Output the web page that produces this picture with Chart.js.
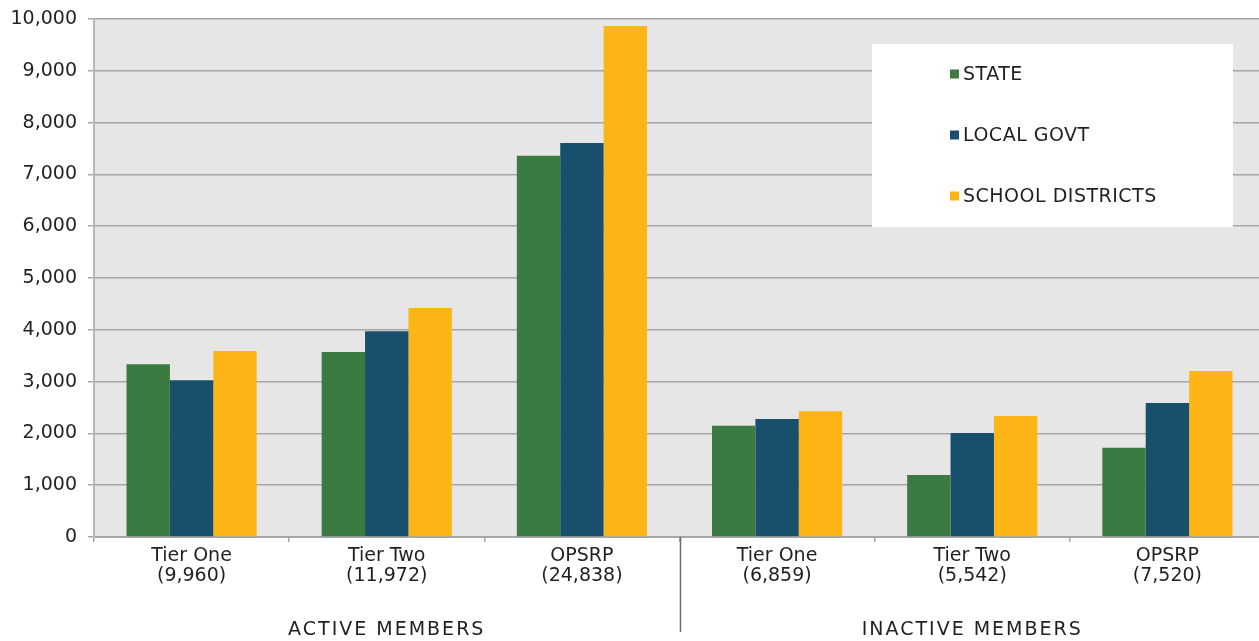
<!DOCTYPE html>
<html>
<head>
<meta charset="utf-8">
<script src="https://cdn.jsdelivr.net/npm/chart.js@4/dist/chart.umd.min.js"></script>
<style>
  html, body { margin: 0; padding: 0; background: #ffffff; overflow: hidden; }
  #wrap { position: relative; width: 1265px; height: 641px; }
</style>
</head>
<body>
<div id="wrap"><canvas id="chart"></canvas></div>
<script>
// Member counts by tier and employer type
const tierNames = ['Tier One', 'Tier Two', 'OPSRP', 'Tier One', 'Tier Two', 'OPSRP'];
const tierTotals = ['(9,960)', '(11,972)', '(24,838)', '(6,859)', '(5,542)', '(7,520)'];
const groupNames = ['ACTIVE MEMBERS', 'INACTIVE MEMBERS'];
const groupSizes = [3, 3];

const seriesNames = ['STATE', 'LOCAL GOVT', 'SCHOOL DISTRICTS'];
const seriesColors = ['#3b7a41', '#184f6c', '#fdb515'];
const stateVals  = [3335, 3570, 7360, 2150, 1195, 1725];
const localVals  = [3025, 3970, 7605, 2280, 2010, 2585];
const schoolVals = [3590, 4420, 9865, 2430, 2335, 3205];

const yTicks = [0, 1000, 2000, 3000, 4000, 5000, 6000, 7000, 8000, 9000, 10000];

const FONT = '"DejaVu Sans", sans-serif';
const TEXT = '#231f20';

const labels = tierNames.map((n, i) => [n, tierTotals[i]]);
const values = [stateVals, localVals, schoolVals];

// Grey plotting area behind the bars
const plotBackground = {
  id: 'plotBackground',
  beforeDraw(chart) {
    const { ctx, chartArea: a } = chart;
    ctx.save();
    ctx.fillStyle = '#e6e6e6';
    ctx.fillRect(a.left, a.top, a.right - a.left, a.bottom - a.top);
    ctx.restore();
  }
};

// Group captions under the tier labels, with a divider between the groups
const groupCaptions = {
  id: 'groupCaptions',
  afterDraw(chart) {
    const { ctx } = chart;
    const x = chart.scales.x;
    const bottom = chart.chartArea.bottom;
    const step = x.getPixelForValue(1) - x.getPixelForValue(0);
    ctx.save();
    let start = 0;
    groupNames.forEach((name, g) => {
      const end = start + groupSizes[g] - 1;
      const left = x.getPixelForValue(start) - step / 2;
      const right = x.getPixelForValue(end) + step / 2;
      ctx.font = '19px ' + FONT;
      ctx.letterSpacing = '2px';
      ctx.fillStyle = TEXT;
      ctx.textAlign = 'center';
      ctx.textBaseline = 'alphabetic';
      ctx.fillText(name, (left + right) / 2, 635);
      if (g > 0) {
        ctx.strokeStyle = '#6b6b6b';
        ctx.lineWidth = 1.5;
        ctx.beginPath();
        ctx.moveTo(Math.round(left) + 0.5, bottom);
        ctx.lineTo(Math.round(left) + 0.5, 632);
        ctx.stroke();
      }
      start = end + 1;
    });
    ctx.restore();
  }
};

// Boxed legend inside the plotting area
const boxLegend = {
  id: 'boxLegend',
  afterDatasetsDraw(chart) {
    const { ctx } = chart;
    ctx.save();
    ctx.fillStyle = '#ffffff';
    ctx.fillRect(872, 44, 361, 183);
    ctx.font = '19px ' + FONT;
    ctx.letterSpacing = '0.5px';
    ctx.textAlign = 'left';
    ctx.textBaseline = 'middle';
    chart.data.datasets.forEach((ds, i) => {
      const cy = 74 + i * 61;
      ctx.fillStyle = ds.backgroundColor;
      ctx.fillRect(950, cy - 4.5, 9, 9);
      ctx.fillStyle = TEXT;
      ctx.fillText(ds.label, 963, cy + 1);
    });
    ctx.restore();
  }
};

new Chart(document.getElementById('chart'), {
  type: 'bar',
  data: {
    labels: labels,
    datasets: seriesNames.map((name, i) => ({
      label: name,
      data: values[i],
      backgroundColor: seriesColors[i],
      borderWidth: 0,
      categoryPercentage: 0.667,
      barPercentage: 1.0
    }))
  },
  options: {
    responsive: true,
    maintainAspectRatio: false,
    animation: false,
    devicePixelRatio: 1,
    layout: { padding: { top: 19, left: 0, right: 0, bottom: 0 } },
    plugins: {
      legend: { display: false },
      tooltip: { enabled: false }
    },
    scales: {
      x: {
        grid: {
          display: true,
          drawOnChartArea: false,
          drawTicks: true,
          tickLength: 5,
          color: '#a6a6a6',
          lineWidth: 1.5
        },
        border: { display: true, color: '#a6a6a6', width: 2 },
        ticks: {
          font: { family: FONT, size: 19, lineHeight: 1.07 },
          color: TEXT,
          padding: 4,
          maxRotation: 0,
          autoSkip: false
        },
        afterFit(scale) { scale.height = 104; }
      },
      y: {
        min: 0,
        max: 10000,
        afterBuildTicks(scale) { scale.ticks = yTicks.map(v => ({ value: v })); },
        grid: {
          color: '#a6a6a6',
          lineWidth: 1.5,
          drawTicks: true,
          tickLength: 6
        },
        border: { display: true, color: '#b8b8b8', width: 2 },
        ticks: {
          font: { family: FONT, size: 19 },
          color: TEXT,
          padding: 11,
          callback: v => v.toLocaleString('en-US')
        },
        afterFit(scale) {
          scale.width = 94;
          scale.paddingTop = 0;
        }
      }
    }
  },
  plugins: [plotBackground, groupCaptions, boxLegend]
});
</script>
</body>
</html>
